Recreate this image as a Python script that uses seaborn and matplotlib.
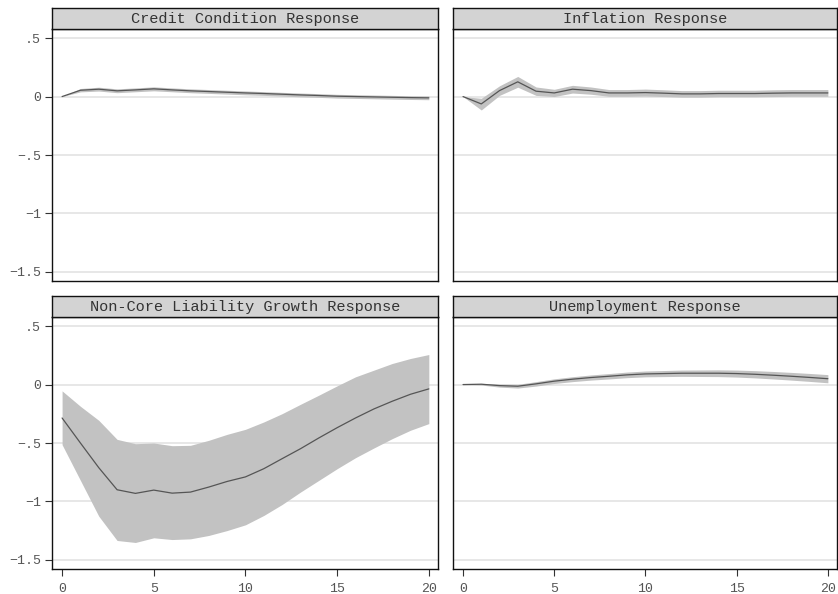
import numpy as np
import pandas as pd
import matplotlib
matplotlib.use("Agg")
import matplotlib.pyplot as plt
import seaborn as sns

# impulse response horizon
steps = list(range(21))

# Credit condition response
credit_irf = [0.0, 0.054, 0.063, 0.049, 0.057, 0.066, 0.057, 0.049, 0.043, 0.037, 0.031,
              0.026, 0.020, 0.014, 0.009, 0.003, 0.0, -0.003, -0.006, -0.009, -0.011]
credit_lo = [0.0, 0.040, 0.047, 0.033, 0.041, 0.049, 0.041, 0.033, 0.027, 0.021, 0.015,
             0.010, 0.004, -0.002, -0.007, -0.013, -0.016, -0.019, -0.022, -0.025, -0.027]
credit_hi = [0.0, 0.069, 0.080, 0.066, 0.074, 0.083, 0.074, 0.066, 0.060, 0.054, 0.048,
             0.042, 0.036, 0.030, 0.025, 0.019, 0.016, 0.013, 0.010, 0.007, 0.005]

# Inflation response
infl_irf = [0.0, -0.063, 0.051, 0.126, 0.046, 0.031, 0.063, 0.051, 0.031, 0.031, 0.034,
            0.029, 0.023, 0.023, 0.026, 0.026, 0.026, 0.029, 0.031, 0.031, 0.031]
infl_lo = [0.0, -0.115, 0.010, 0.080, 0.010, 0.000, 0.030, 0.020, 0.002, 0.002, 0.004,
           0.000, -0.005, -0.005, -0.002, -0.002, -0.002, 0.000, 0.002, 0.002, 0.002]
infl_hi = [0.0, -0.015, 0.092, 0.172, 0.082, 0.062, 0.096, 0.082, 0.060, 0.060, 0.064,
           0.058, 0.051, 0.051, 0.054, 0.054, 0.054, 0.058, 0.060, 0.060, 0.060]

# Non-core liability growth response
ncl_irf = [-0.286, -0.50, -0.711, -0.90, -0.931, -0.903, -0.929, -0.92, -0.877, -0.829, -0.79,
           -0.72, -0.634, -0.549, -0.457, -0.369, -0.286, -0.209, -0.143, -0.083, -0.037]
ncl_lo = [-0.514, -0.82, -1.126, -1.334, -1.351, -1.311, -1.326, -1.32, -1.291, -1.249, -1.20,
          -1.12, -1.026, -0.92, -0.82, -0.72, -0.626, -0.543, -0.463, -0.391, -0.334]
ncl_hi = [-0.054, -0.186, -0.306, -0.469, -0.506, -0.50, -0.523, -0.52, -0.477, -0.426, -0.383,
          -0.32, -0.249, -0.169, -0.091, -0.011, 0.066, 0.123, 0.18, 0.223, 0.257]

# Unemployment response
unemp_irf = [0.0, 0.003, -0.009, -0.014, 0.006, 0.029, 0.046, 0.060, 0.071, 0.083, 0.091,
             0.094, 0.097, 0.097, 0.097, 0.094, 0.088, 0.080, 0.071, 0.061, 0.050]
unemp_lo = [0.0, -0.004, -0.022, -0.030, -0.013, 0.009, 0.025, 0.038, 0.048, 0.059, 0.066,
            0.068, 0.070, 0.069, 0.068, 0.064, 0.057, 0.048, 0.038, 0.027, 0.015]
unemp_hi = [0.0, 0.010, 0.004, 0.002, 0.025, 0.049, 0.067, 0.082, 0.094, 0.107, 0.116,
            0.120, 0.124, 0.125, 0.126, 0.124, 0.119, 0.112, 0.104, 0.095, 0.085]

titles = ["Credit Condition Response", "Inflation Response",
          "Non-Core Liability Growth Response", "Unemployment Response"]
yticks = [0.5, 0, -0.5, -1, -1.5]
ytick_labels = [".5", "0", "\u2212.5", "\u22121", "\u22121.5"]
xticks = [0, 5, 10, 15, 20]

series = [(credit_irf, credit_lo, credit_hi), (infl_irf, infl_lo, infl_hi),
          (ncl_irf, ncl_lo, ncl_hi), (unemp_irf, unemp_lo, unemp_hi)]

frames = []
for t, (irf, lo, hi) in zip(titles, series):
    frames.append(pd.DataFrame({"step": steps, "irf": irf, "lo": lo, "hi": hi, "panel": t}))
df = pd.concat(frames, ignore_index=True)

sns.set_style("white")
plt.rcParams["font.family"] = ["Liberation Mono", "DejaVu Sans Mono"]

W, H = 838, 594
fig = plt.figure(figsize=(W / 100, H / 100), dpi=100)

# panel boxes in pixels: (left, right) and (header_top, plot_top, plot_bottom)
cols = [(52, 438), (453, 837)]
rows = [(8, 29, 281), (296, 317, 569)]

for i, t in enumerate(titles):
    r, c = divmod(i, 2)
    x0, x1 = cols[c]
    htop, ptop, pbot = rows[r]
    ax = fig.add_axes([x0 / W, 1 - pbot / H, (x1 - x0) / W, (pbot - ptop) / H])
    hax = fig.add_axes([x0 / W, 1 - ptop / H, (x1 - x0) / W, (ptop - htop) / H])

    d = df[df["panel"] == t]
    ax.fill_between(d["step"], d["lo"], d["hi"], color="#c2c2c2", lw=0, zorder=2)
    sns.lineplot(data=d, x="step", y="irf", ax=ax, color="#555555", lw=0.9, zorder=3)

    ax.set_xlim(-0.55, 20.5)
    ax.set_ylim(-1.578, 0.578)
    ax.set_yticks(yticks)
    ax.set_xticks(xticks)
    for y in yticks:
        ax.axhline(y, color="#e3e3e3", lw=1.2, zorder=1)
    ax.set_xlabel("")
    ax.set_ylabel("")
    for s in ax.spines.values():
        s.set_color("#111111")
        s.set_linewidth(1.0)
    ax.tick_params(axis="both", direction="out", length=5, width=0.8, color="#333333",
                   labelsize=9.5, labelcolor="#555555", pad=3)
    if c == 0:
        ax.set_yticklabels(ytick_labels)
        ax.tick_params(axis="y", left=True)
    else:
        ax.tick_params(axis="y", left=False, labelleft=False)
    if r == 1:
        ax.tick_params(axis="x", bottom=True, labelbottom=True, pad=5)
    else:
        ax.tick_params(axis="x", bottom=False, labelbottom=False)

    hax.set_facecolor("#d3d3d3")
    hax.set_xticks([])
    hax.set_yticks([])
    for s in hax.spines.values():
        s.set_color("#111111")
        s.set_linewidth(1.0)
    hax.text(0.5, 0.5, t, ha="center", va="center", fontsize=11, color="#333333",
             transform=hax.transAxes)

fig.savefig("out.png", dpi=100)
